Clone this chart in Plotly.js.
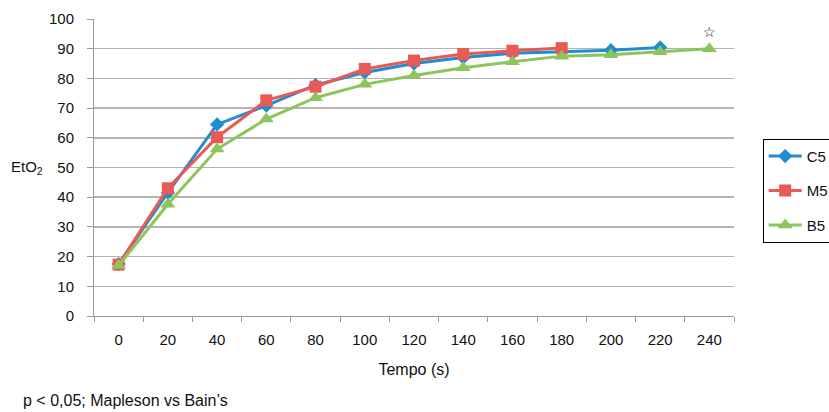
<!DOCTYPE html>
<html>
<head>
<meta charset="utf-8">
<script src="https://cdn.plot.ly/plotly-3.0.1.min.js"></script>
<style>html,body{margin:0;padding:0;background:#fff;}#chart{width:829px;height:412px;}</style>
</head>
<body>
<div id="chart"></div>
<script>
var categories = ["0","20","40","60","80","100","120","140","160","180","200","220","240"];
var c5 = [17.5, 41.5, 64.5, 70.8, 77.8, 82, 85, 87, 88.5, 89, 89.5, 90.4];
var m5 = [17.3, 43, 60.2, 72.6, 77.2, 83.2, 86, 88.2, 89.3, 90.2];
var b5 = [17, 37.6, 56.2, 66.3, 73.5, 78, 81, 83.6, 85.6, 87.5, 88, 89, 90];
var seriesNames = ["C5", "M5", "B5"];

var font = "Liberation Sans, Arial, Helvetica, sans-serif";
var traces = [
  {x: categories.slice(0, c5.length), y: c5, name: seriesNames[0], type: "scatter", mode: "lines+markers",
   line: {color: "#1f8dd0", width: 3}, marker: {symbol: "diamond", size: 11, color: "#1f8dd0"}, legendgroup: "a"},
  {x: categories.slice(0, m5.length), y: m5, name: seriesNames[1], type: "scatter", mode: "lines+markers",
   line: {color: "#ea5a55", width: 3}, marker: {symbol: "square", size: 12, color: "#ea5a55"}, legendgroup: "b"},
  {x: categories.slice(0, b5.length), y: b5, name: seriesNames[2], type: "scatter", mode: "lines+markers",
   line: {color: "#8cc55b", width: 3}, marker: {symbol: "triangle-up", size: 13, color: "#8cc55b"}, legendgroup: "c"}
];

var layout = {
  width: 829, height: 412,
  margin: {l: 94, r: 95, t: 19, b: 96, autoexpand: false},
  paper_bgcolor: "#fff", plot_bgcolor: "#fff",
  font: {family: font, size: 15, color: "#111"},
  showlegend: true,
  legend: {xref: "container", yref: "container", x: 0.92, xanchor: "left", y: 0.663, yanchor: "top",
           bordercolor: "#000", borderwidth: 1,
           font: {family: font, size: 15, color: "#111"}, traceorder: "grouped", tracegroupgap: 12,
           itemwidth: 33, bgcolor: "#fff"},
  xaxis: {type: "category", tickson: "boundaries", ticks: "outside", ticklen: 5, tickcolor: "#999",
          showgrid: false, showline: true, linecolor: "#999", linewidth: 1,
          range: [-0.5, 12.5], fixedrange: true, automargin: false,
          tickfont: {family: font, size: 15, color: "#111"}, ticklabelstandoff: 10,
          title: {text: "Tempo (s)", font: {family: font, size: 16, color: "#111"}, standoff: 16}},
  yaxis: {range: [0, 100], dtick: 10, showgrid: true, gridcolor: "#b3b3b3", gridwidth: 1.5,
          ticks: "outside", ticklen: 6, tickcolor: "#999", showline: true, linecolor: "#999",
          zeroline: false, automargin: false, tickfont: {family: font, size: 15, color: "#111"}, ticklabelstandoff: 10},
  annotations: [
    {xref: "paper", yref: "paper", x: -0.077, y: 0.5, xanchor: "right", yanchor: "middle",
     text: "EtO<sub>2</sub>", showarrow: false, font: {family: font, size: 15, color: "#111"}},
    {xref: "paper", yref: "paper", x: -0.114, y: -0.286, xanchor: "left", yanchor: "middle",
     text: "p < 0,05; Mapleson vs Bain’s", showarrow: false, font: {family: font, size: 16, color: "#111"}},
    {xref: "x", yref: "y", x: 12, y: 95.5, text: "<b>☆</b>", showarrow: false,
     font: {family: "DejaVu Sans, sans-serif", size: 14, color: "#000"}}
  ]
};

Plotly.newPlot("chart", traces, layout, {staticPlot: true, displayModeBar: false});
</script>
</body>
</html>
